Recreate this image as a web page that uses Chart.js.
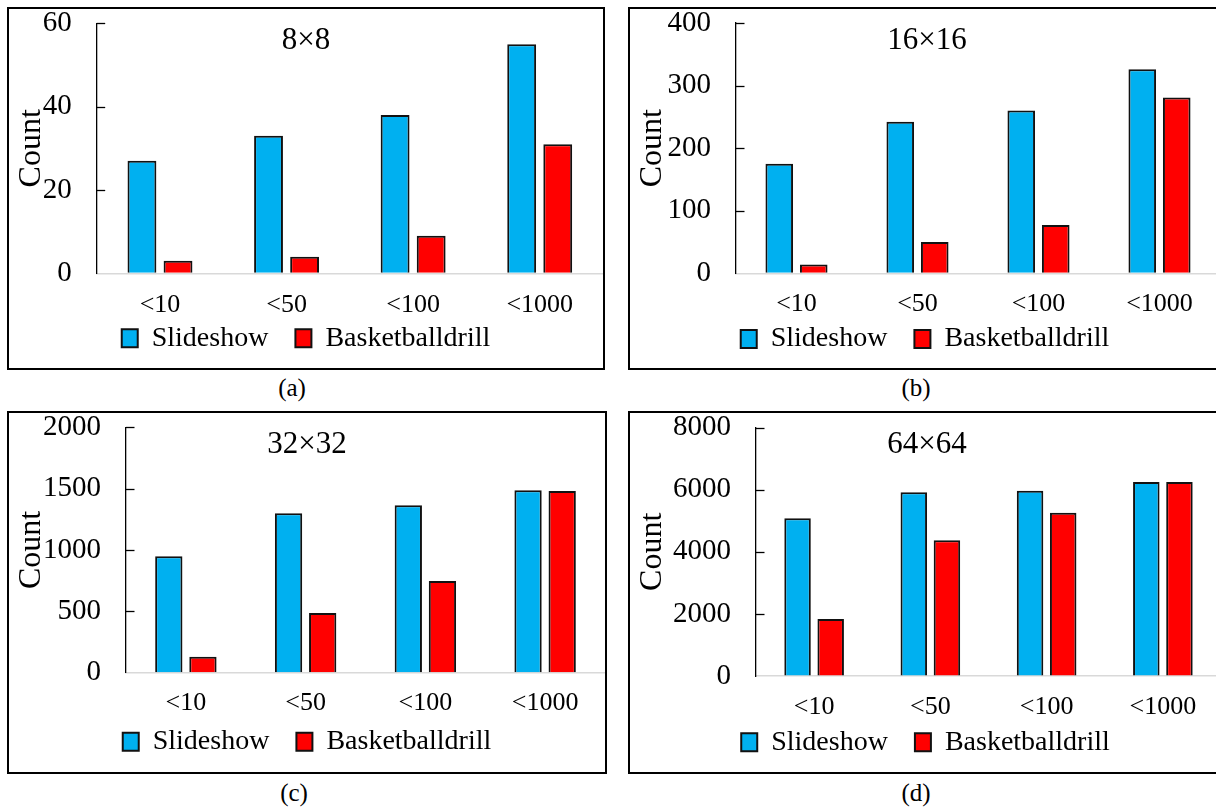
<!DOCTYPE html>
<html>
<head>
<meta charset="utf-8">
<script src="https://cdn.jsdelivr.net/npm/chart.js@4/dist/chart.umd.min.js"></script>
<style>
  html, body { margin: 0; padding: 0; background: #fff; width: 1216px; height: 809px; overflow: hidden; }
  .panel { position: absolute; border: 2px solid #000; box-sizing: border-box; background: #fff; }
  .panel canvas { position: absolute; left: 0; top: 0; }
  .cap { position: absolute; font: 25px 'Liberation Serif', 'Times New Roman', serif; color: #000;
         transform: translate(-50%, -50%); white-space: nowrap; }
</style>
</head>
<body>
<div class="panel" id="pa" style="left:7px;top:7px;width:598px;height:363px;"><canvas id="ca" width="594" height="359"></canvas></div>
<div class="panel" id="pb" style="left:628px;top:7px;width:600px;height:363px;"><canvas id="cb" width="594" height="359"></canvas></div>
<div class="panel" id="pc" style="left:7px;top:411px;width:600px;height:363px;"><canvas id="cc" width="596" height="359"></canvas></div>
<div class="panel" id="pd" style="left:628px;top:411px;width:600px;height:363px;"><canvas id="cd" width="594" height="359"></canvas></div>
<div class="cap" style="left:292px;top:388px;">(a)</div>
<div class="cap" style="left:916px;top:388px;">(b)</div>
<div class="cap" style="left:294px;top:793px;">(c)</div>
<div class="cap" style="left:916px;top:793px;">(d)</div>

<script>
// Threshold bins on the x axis
const categories = ['<10', '<50', '<100', '<1000'];
const seriesNames = ['Slideshow', 'Basketballdrill'];

// 8×8 blocks
const slideshow8 = [27, 33, 38, 55];
const basketball8 = [3, 4, 9, 31];
// 16×16 blocks
const slideshow16 = [175, 242, 260, 326];
const basketball16 = [14, 50, 77, 281];
// 32×32 blocks
const slideshow32 = [949, 1300, 1365, 1487];
const basketball32 = [130, 487, 748, 1481];
// 64×64 blocks
const slideshow64 = [5080, 5918, 5970, 6250];
const basketball64 = [1836, 4371, 5262, 6250];

const blockTitles = ['8×8', '16×16', '32×32', '64×64'];
const yMaxima = [60, 400, 2000, 8000];
const yStepSizes = [20, 100, 500, 2000];

const FONT = "'Liberation Serif', 'Times New Roman', serif";
const BLUE = '#00B0F0';
const RED = '#FF0000';
const EDGE = '#111111';

// Panel geometry: chart-area top/bottom, y-axis width, label offsets below the plot
const panels = [
  { canvas: 'ca', top: 14.3, bottom: 264.3, axisW: 87.7, labelOff: 31.7, legendOff: 65.0, padR: 0 },
  { canvas: 'cb', top: 14.0, bottom: 264.3, axisW: 106,  labelOff: 30.7, legendOff: 65.7, padR: 4 },
  { canvas: 'cc', top: 14.3, bottom: 259.7, axisW: 117,  labelOff: 30.6, legendOff: 69.0, padR: 0 },
  { canvas: 'cd', top: 14.7, bottom: 263.0, axisW: 126,  labelOff: 31.3, legendOff: 66.3, padR: 3 }
];

// Short tick marks pointing into the plot from the value axis
const innerTicks = {
  id: 'innerTicks',
  afterDraw(chart) {
    const ys = chart.scales.y;
    const area = chart.chartArea;
    const ctx = chart.ctx;
    ctx.save();
    ctx.strokeStyle = '#000';
    ctx.lineWidth = 1.3;
    ys.ticks.forEach(t => {
      if (t.value === 0) return;
      const py = Math.round(ys.getPixelForValue(t.value)) + 0.5;
      ctx.beginPath();
      ctx.moveTo(area.left, py);
      ctx.lineTo(area.left + 8.5, py);
      ctx.stroke();
    });
    ctx.restore();
  }
};

// Block-size caption drawn inside the plot
const blockTitle = {
  id: 'blockTitle',
  afterDraw(chart, args, opts) {
    const ctx = chart.ctx;
    ctx.save();
    ctx.font = '31px ' + FONT;
    ctx.fillStyle = '#000';
    ctx.textAlign = 'center';
    ctx.textBaseline = 'middle';
    ctx.fillText(opts.text, chart.width / 2, opts.y);
    ctx.restore();
  }
};

function buildChart(p, title, slideshow, basketball, yMax, yStep) {
  const legPad = 27, legFont = 28, xFont = 26, yFont = 29;
  const canvas = document.getElementById(p.canvas);
  const xH = p.legendOff - legPad - legFont / 2;
  const legH = legFont + legPad + 10;
  const barCommon = { borderColor: EDGE, borderWidth: 2, borderSkipped: 'start',
                      categoryPercentage: 0.57, barPercentage: 0.8 };
  return new Chart(canvas, {
    type: 'bar',
    data: {
      labels: categories,
      datasets: [
        Object.assign({ label: seriesNames[0], data: slideshow, backgroundColor: BLUE }, barCommon),
        Object.assign({ label: seriesNames[1], data: basketball, backgroundColor: RED }, barCommon)
      ]
    },
    options: {
      responsive: false,
      animation: false,
      devicePixelRatio: 1,
      layout: { padding: { top: p.top, left: 0, right: p.padR, bottom: canvas.height - p.bottom - xH - legH } },
      plugins: {
        legend: {
          position: 'bottom',
          labels: { font: { family: FONT, size: legFont }, color: '#000', boxWidth: 16, boxHeight: 18, padding: legPad }
        },
        tooltip: { enabled: false },
        blockTitle: { text: title, y: 32 }
      },
      scales: {
        x: {
          grid: { display: true, drawOnChartArea: false, drawTicks: false },
          border: { color: '#d9d9d9', width: 1.5 },
          // mirrored with a negative padding: labels sit below the axis and are not clipped
          ticks: { font: { family: FONT, size: xFont, lineHeight: 1 }, color: '#000', mirror: true,
                   padding: -(p.labelOff + xFont / 2), maxRotation: 0, autoSkip: false },
          afterFit: s => { s.height = xH; }
        },
        y: {
          min: 0, max: yMax,
          grid: { display: true, drawOnChartArea: false, drawTicks: true, tickLength: 25, tickColor: 'rgba(0,0,0,0)' },
          border: { color: '#000', width: 1.3 },
          ticks: { stepSize: yStep, font: { family: FONT, size: yFont, lineHeight: 0.9 }, color: '#000', padding: 0,
                   callback: v => String(v) },
          title: { display: true, text: 'Count', font: { family: FONT, size: 32 }, color: '#000',
                   padding: { top: 3, bottom: 0 } },
          afterFit: s => { s.width = p.axisW; }
        }
      }
    },
    plugins: [innerTicks, blockTitle]
  });
}

buildChart(panels[0], blockTitles[0], slideshow8, basketball8, yMaxima[0], yStepSizes[0]);
buildChart(panels[1], blockTitles[1], slideshow16, basketball16, yMaxima[1], yStepSizes[1]);
buildChart(panels[2], blockTitles[2], slideshow32, basketball32, yMaxima[2], yStepSizes[2]);
buildChart(panels[3], blockTitles[3], slideshow64, basketball64, yMaxima[3], yStepSizes[3]);
</script>
</body>
</html>
